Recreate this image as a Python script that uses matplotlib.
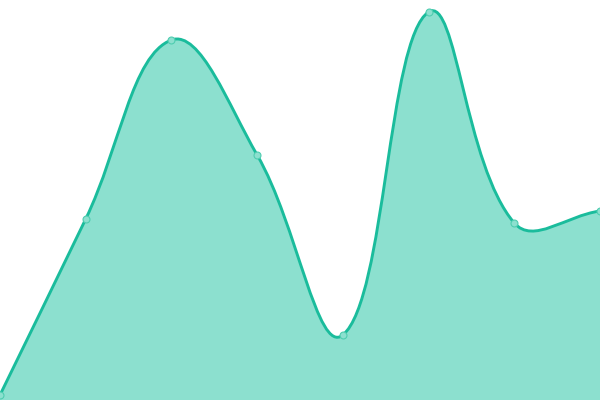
import matplotlib
matplotlib.use("Agg")
import matplotlib.pyplot as plt
import numpy as np
from matplotlib.path import Path
from matplotlib.patches import PathPatch

labels = ["A", "B", "C", "D", "E", "F", "G", "H"]
values = [5, 181, 360, 245, 65, 388, 177, 189]

LINE = "#1abc9c"
FILL = "#8ce0cf"

fig = plt.figure(figsize=(6, 4), dpi=100)
ax = fig.add_axes([0, 0, 1, 1])
ax.set_xlim(0, len(values) - 1)
ax.set_ylim(0, 400)
ax.axis("off")

xs = np.arange(len(values), dtype=float)
pts = ax.transData.transform(np.column_stack([xs, values]))

tension = 0.4
n = len(pts)
cp_prev = [None] * n
cp_next = [None] * n
for i in range(n):
    p0 = pts[i - 1] if i > 0 else pts[i]
    p1 = pts[i]
    p2 = pts[i + 1] if i < n - 1 else pts[i]
    d01 = np.hypot(*(p1 - p0))
    d12 = np.hypot(*(p2 - p1))
    s01 = d01 / (d01 + d12) if d01 + d12 else 0
    s12 = d12 / (d01 + d12) if d01 + d12 else 0
    fa = tension * s01
    fb = tension * s12
    cp_prev[i] = p1 - fa * (p2 - p0)
    cp_next[i] = p1 + fb * (p2 - p0)

inv = ax.transData.inverted()
verts = [pts[0]]
codes = [Path.MOVETO]
for i in range(n - 1):
    verts += [cp_next[i], cp_prev[i + 1], pts[i + 1]]
    codes += [Path.CURVE4] * 3
verts = inv.transform(np.array(verts))

line_path = Path(verts, codes)
fill_verts = np.vstack([verts, [[xs[-1], 0], [xs[0], 0], verts[0]]])
fill_codes = codes + [Path.LINETO, Path.LINETO, Path.CLOSEPOLY]
ax.add_patch(PathPatch(Path(fill_verts, fill_codes), facecolor=FILL, edgecolor="none", zorder=1))
ax.add_patch(PathPatch(line_path, facecolor="none", edgecolor=LINE, lw=2.1, zorder=2, capstyle="round"))
ax.plot(xs, values, "o", ms=5, mfc=FILL, mec="#4fcdb0", mew=0.8, zorder=3, clip_on=False)

fig.savefig("out.png", dpi=100)
